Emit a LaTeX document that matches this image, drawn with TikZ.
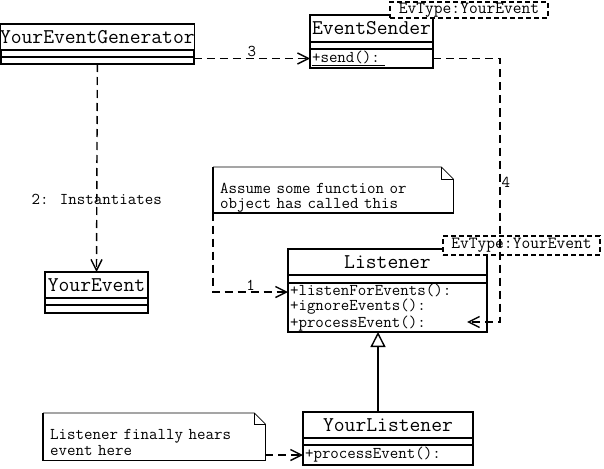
\documentclass[tikz,border=0pt]{standalone}
\usetikzlibrary{calc}
\usetikzlibrary{positioning}
\usetikzlibrary{arrows.meta}

\begin{document}
\begin{tikzpicture}[x=1pt, y=-1pt,
  box/.style={draw, line width=1.4pt, inner sep=0pt, outer sep=0pt},
  clsname/.style={box, anchor=north west, font=\fontsize{21}{21}\selectfont\ttfamily},
  clsrow/.style={box, font=\fontsize{16.5}{15}\selectfont\ttfamily, align=left, inner xsep=2pt},
  tagbox/.style={draw, line width=1.3pt, dash pattern=on 5pt off 3pt, fill=white, inner sep=0pt, font=\fontsize{17}{17}\selectfont\ttfamily},
  notebox/.style={anchor=north west, inner xsep=7pt, inner ysep=0pt, align=left, font=\fontsize{16.5}{15.5}\selectfont\ttfamily},
  lbl/.style={font=\fontsize{16.5}{16.5}\selectfont\ttfamily, inner sep=1pt},
  dep/.style={line width=1.4pt, dash pattern=on 8pt off 5pt, -{Straight Barb[length=11pt,width=11pt]}},
  inherit/.style={line width=1.4pt, -{Triangle[open,fill=white,length=15pt,width=15pt]}}
]
  \useasboundingbox (0,0) rectangle (604,468);

  % generator
  \node[clsname, minimum width=193pt, minimum height=26pt] (genname) at (0,24) {YourEventGenerator};
  \node[clsrow, minimum width=193pt, minimum height=7pt, below=0pt of genname] (genattr) {};
  \node[clsrow, minimum width=193pt, minimum height=7pt, below=0pt of genattr] (genops) {};

  % sender
  \node[clsname, minimum width=123pt, minimum height=27pt] (sendname) at (310,15) {EventSender};
  \node[clsrow, minimum width=123pt, minimum height=7pt, below=0pt of sendname] (sendattr) {};
  \node[clsrow, minimum width=123pt, minimum height=19pt, text width=119pt, below=0pt of sendattr] (sendops) {\underline{+send():~}};
  \node[tagbox, minimum width=158pt, minimum height=16pt] (sendtag) at (469,10) {EvType:YourEvent};

  % listener
  \node[clsname, minimum width=199pt, minimum height=26pt] (lisname) at (288,249) {Listener};
  \node[clsrow, minimum width=199pt, minimum height=8pt, below=0pt of lisname] (lisattr) {};
  \node[clsrow, minimum width=199pt, minimum height=49pt, text width=195pt, below=0pt of lisattr] (lisops)
    {+listenForEvents():\\+ignoreEvents():\\+processEvent():};
  \node[tagbox, minimum width=157pt, minimum height=19pt] (listag) at (521.5,245.5) {EvType:YourEvent};

  % event
  \node[clsname, minimum width=103pt, minimum height=26pt] (evname) at (45,272) {YourEvent};
  \node[clsrow, minimum width=103pt, minimum height=7pt, below=0pt of evname] (evattr) {};
  \node[clsrow, minimum width=103pt, minimum height=8pt, below=0pt of evattr] (evops) {};

  % concrete listener
  \node[clsname, minimum width=170pt, minimum height=26pt] (ylisname) at (303,412) {YourListener};
  \node[clsrow, minimum width=170pt, minimum height=7pt, below=0pt of ylisname] (ylisattr) {};
  \node[clsrow, minimum width=170pt, minimum height=20pt, text width=166pt, below=0pt of ylisattr] (ylisops) {+processEvent():};

  % notes
  \node[notebox, minimum width=240pt, minimum height=45pt, text width=226pt] (note1) at (213,167)
    {\rule{0pt}{26pt}Assume some function or\\object has called this};
  \node[notebox, minimum width=222pt, minimum height=47pt, text width=208pt] (note2) at (43,413)
    {\rule{0pt}{22pt}Listener finally hears\\[1pt]event here};
  \foreach \n/\e in {note1/12, note2/11}{%
    \draw[line width=0.8pt] (\n.north west) -- ($(\n.north east)+(-\e,0)$) -- ($(\n.north east)+(0,\e)$);
    \draw[line width=0.8pt] ($(\n.north east)+(-\e,0)$) |- ($(\n.north east)+(0,\e)$);
    \draw[line width=1.8pt] ($(\n.north east)+(0,\e)$) -- (\n.south east) -- (\n.south west) -- (\n.north west);
  }

  \coordinate (lisin1) at ($(lisops.north west)+(0,9)$);
  \coordinate (lisin4) at ($(lisops.south east)+(-20,-10)$);
  \coordinate (bend4) at ($(lisin4)+(33,0)$);

  \draw[dep] (genops.east |- sendops.west) -- (sendops.west) node[lbl, midway, above] {3};
  \draw[dep] (genops.south) -- (evname.north) node[lbl, pos=0.65] {2: Instantiates};
  \draw[dep] (note1.south west) |- (lisin1) node[lbl, pos=0.75, above] {1};
  \draw[dep] (sendops.east) -- (sendops.east -| bend4) -- (bend4) node[lbl, pos=0.47, right] {4} -- (lisin4);
  \draw[dep] (note2.east |- ylisops.west) -- (ylisops.west);
  \draw[inherit] ([xshift=-10pt]ylisname.north) -- ([xshift=-10pt]ylisname.north |- lisops.south);
\end{tikzpicture}
\end{document}
